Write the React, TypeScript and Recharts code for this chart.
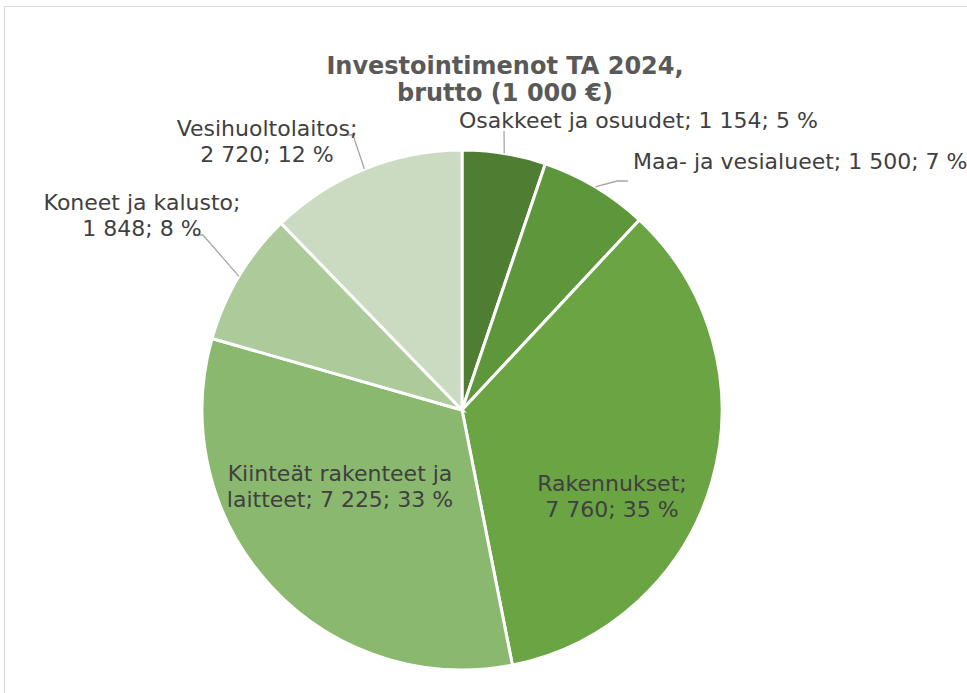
import React from 'react'
import { PieChart, Pie, Cell } from 'recharts'

const categories = [
  'Osakkeet ja osuudet',
  'Maa- ja vesialueet',
  'Rakennukset',
  'Kiinteät rakenteet ja laitteet',
  'Koneet ja kalusto',
  'Vesihuoltolaitos',
]
const values = [1154, 1500, 7760, 7225, 1848, 2720]
const colors = ['#4f7e33', '#5e973b', '#6aa443', '#8ab86e', '#adca9b', '#cadbc2']

const data = categories.map((name, i) => ({ name, value: values[i] }))
const total = values.reduce((a, b) => a + b, 0)

const W = 967
const H = 693
const CX = 462
const CY = 410
const R = 260
const RAD = Math.PI / 180

// label placement, offsets relative to pie centre
type Layout = {
  lines: 'one' | 'name' | number
  x: number
  y: number
  anchor: 'start' | 'middle'
  leader?: [number, number][]
}
const layout: Layout[] = [
  { lines: 'one', x: -3, y: -290, anchor: 'start', leader: [[42, -279]] },
  { lines: 'one', x: 171, y: -249, anchor: 'start', leader: [[155, -229], [166, -229]] },
  { lines: 'name', x: 150, y: 73, anchor: 'middle' },
  { lines: 3, x: -122, y: 63, anchor: 'middle' },
  { lines: 'name', x: -320, y: -208, anchor: 'middle', leader: [[-259, -175], [-269, -175]] },
  { lines: 'name', x: -195, y: -282, anchor: 'middle', leader: [[-109, -275], [-119, -275]] },
]

const fmt = (v: number) => v.toString().replace(/\B(?=(\d{3})+(?!\d))/g, ' ')

function renderLabel(props: any) {
  const { cx, cy, midAngle, outerRadius, index, name, value } = props
  const l = layout[index]
  const pct = Math.round((value / total) * 100)
  const full = `${name}; ${fmt(value)}; ${pct} %`
  let lines: string[]
  if (l.lines === 'one') lines = [full]
  else if (l.lines === 'name') lines = [`${name};`, `${fmt(value)}; ${pct} %`]
  else {
    const words = full.split(' ')
    lines = [words.slice(0, l.lines).join(' '), words.slice(l.lines).join(' ')]
  }
  const ex = cx + outerRadius * Math.cos(-midAngle * RAD)
  const ey = cy + outerRadius * Math.sin(-midAngle * RAD)
  let path = ''
  if (l.leader) {
    path = `M${ex},${ey}` + l.leader.map(([px, py]) => ` L${cx + px},${cy + py}`).join('')
  }
  return (
    <g key={`lbl-${index}`}>
      {path && <path d={path} stroke="#a6a6a6" strokeWidth={1.3} fill="none" />}
      <text
        x={cx + l.x}
        y={cy + l.y}
        textAnchor={l.anchor}
        fill="#404040"
        fontSize={22}
        fontFamily="'DejaVu Sans', Verdana, sans-serif"
      >
        {lines.map((t, k) => (
          <tspan key={k} x={cx + l.x} y={cy + l.y + k * 26} dominantBaseline="central">
            {t}
          </tspan>
        ))}
      </text>
    </g>
  )
}

export default function App() {
  return (
    <div
      style={{
        position: 'absolute',
        left: 0,
        top: 0,
        width: W,
        height: H,
        overflow: 'hidden',
        background: '#fff',
      }}
    >
      <div
        style={{
          position: 'absolute',
          left: 4,
          top: 6,
          width: 1020,
          height: 720,
          border: '1px solid #d9d9d9',
        }}
      />
      <div
        style={{
          position: 'absolute',
          left: 0,
          width: 1010,
          top: 53,
          textAlign: 'center',
          fontFamily: "'DejaVu Sans', Verdana, sans-serif",
          fontWeight: 'bold',
          fontSize: 24,
          lineHeight: '27px',
          color: '#595959',
        }}
      >
        Investointimenot TA 2024,
        <br />
        brutto (1 000 €)
      </div>
      <div style={{ position: 'absolute', left: 0, top: 0 }}>
        <PieChart width={W} height={H} margin={{ top: 0, right: 0, bottom: 0, left: 0 }}>
          <Pie
            data={data}
            dataKey="value"
            nameKey="name"
            cx={CX}
            cy={CY}
            outerRadius={R}
            startAngle={90}
            endAngle={-270}
            stroke="#ffffff"
            strokeWidth={3}
            label={renderLabel}
            labelLine={false}
            isAnimationActive={false}
          >
            {data.map((d, i) => (
              <Cell key={d.name} fill={colors[i]} />
            ))}
          </Pie>
        </PieChart>
      </div>
    </div>
  )
}
